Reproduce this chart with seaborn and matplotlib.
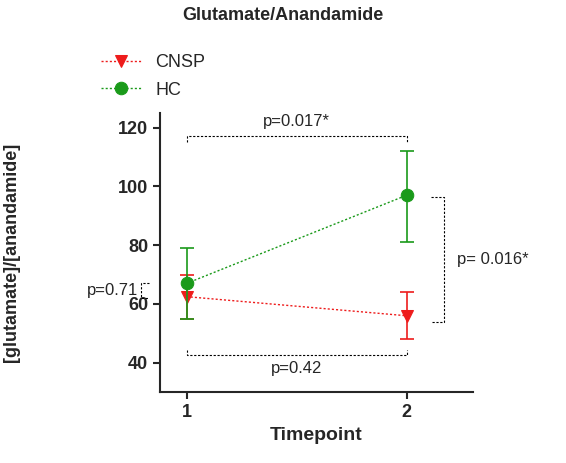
import matplotlib
matplotlib.use("Agg")
import matplotlib.pyplot as plt
import seaborn as sns
import pandas as pd

timepoints = [1, 2]
cnsp_mean = [62.5, 56]
cnsp_lo = [55, 48]
cnsp_hi = [70, 64]
hc_mean = [67, 97]
hc_lo = [55, 81]
hc_hi = [79, 112]

sns.set_style("ticks")
plt.rcParams['font.family'] = ['Liberation Sans', 'DejaVu Sans']

fig = plt.figure(figsize=(5.66, 4.63), dpi=100)
ax = fig.add_axes([0.283, 0.153, 0.552, 0.603])

series = [("CNSP", cnsp_mean, cnsp_lo, cnsp_hi, "#ee1c1c", "v"),
          ("HC", hc_mean, hc_lo, hc_hi, "#1a9a1a", "o")]
for name, m, lo, hi, col, mk in series:
    df = pd.DataFrame({"t": timepoints, "v": m})
    err = [[a - b for a, b in zip(m, lo)], [b - a for a, b in zip(m, hi)]]
    ax.errorbar(timepoints, m, yerr=err, fmt="none", ecolor=col, elinewidth=1.2, capsize=5, capthick=1.2)
    sns.lineplot(data=df, x="t", y="v", ax=ax, color=col, linestyle=(0, (1.5, 1.5)), linewidth=1,
                 marker=mk, markersize=9, markeredgecolor=col, label=name)

ax.set_xlim(0.88, 2.3)
ax.set_ylim(30, 125)
ax.set_xticks([1, 2])
ax.set_yticks([40, 60, 80, 100, 120])
ax.tick_params(labelsize=13, width=1.5, length=5)
for lbl in ax.get_xticklabels() + ax.get_yticklabels():
    lbl.set_fontweight("bold")
for s in ["left", "bottom"]:
    ax.spines[s].set_linewidth(1.5)
sns.despine(ax=ax)
ax.set_xlabel("Timepoint", fontsize=14, fontweight="bold")
ax.set_ylabel("[glutamate]/[anandamide]", fontsize=13, fontweight="bold", labelpad=0)
ax.yaxis.set_label_coords(-0.45, 0.5)
fig.suptitle("Glutamate/Anandamide", fontsize=13, fontweight="bold", y=0.985, x=0.5)

ax.legend(loc="upper left", bbox_to_anchor=(-0.24, 1.27), frameon=False, fontsize=13,
          handlelength=2.2, labelspacing=0.6)

bk = dict(color="black", linewidth=0.8, linestyle=(0, (2, 1.5)), clip_on=False)
# top bracket
ax.plot([1, 1, 2, 2], [115, 117.3, 117.3, 115], **bk)
ax.text(1.5, 119.5, "p=0.017*", ha="center", va="bottom", fontsize=12)
# bottom bracket
ax.plot([1, 1, 2, 2], [44.5, 42.7, 42.7, 44.5], **bk)
ax.text(1.5, 40.5, "p=0.42", ha="center", va="top", fontsize=12)
# right bracket
ax.plot([2.11, 2.17, 2.17, 2.11], [96.3, 96.3, 54, 54], **bk)
ax.text(2.23, 75, "p= 0.016*", ha="left", va="center", fontsize=12)
# left bracket
ax.plot([0.83, 0.795, 0.795, 0.83], [67, 67, 62, 62], **bk)
ax.text(0.78, 64.5, "p=0.71", ha="right", va="center", fontsize=12)

fig.savefig("out.png", dpi=100)
